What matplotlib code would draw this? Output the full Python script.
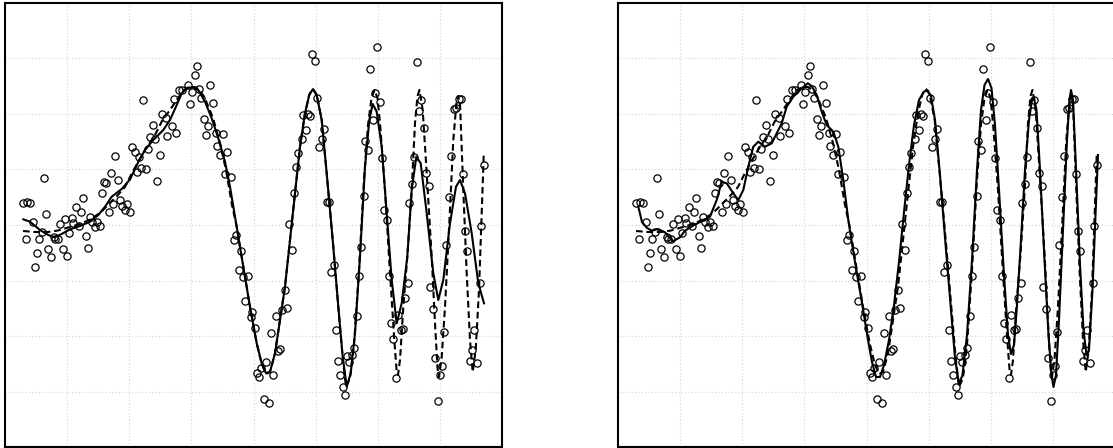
import matplotlib
matplotlib.use("Agg")
import matplotlib.pyplot as plt
import numpy as np

# observed noisy samples (same in both panels)
obs_x = [1.77, 2.23, 2.50, 3.87, 4.13, 2.77, 2.07, 3.43, 3.67, 4.87, 5.03, 5.33, 4.33, 5.77,
         3.20, 4.60, 6.20, 3.00, 5.53, 6.00, 6.67, 6.80, 7.37, 6.43, 7.13, 7.57, 7.83, 8.50,
         8.70, 9.20, 9.00, 9.50, 8.07, 8.27, 9.67, 9.93, 10.13, 10.57, 11.03, 11.30, 10.83,
         10.40, 11.53, 11.73, 12.23, 12.00, 12.50, 12.70, 13.00, 13.40, 13.17, 13.63, 14.10,
         14.30, 13.83, 14.53, 15.03, 14.77, 15.20, 15.50, 15.70, 16.07, 16.17, 16.67, 17.10,
         16.87, 17.35, 17.65, 18.25, 18.70, 19.40, 18.47, 18.95, 19.18, 19.62, 20.53, 20.78,
         19.90, 20.32, 20.10, 21.05, 21.75, 21.22, 21.50, 22.20, 21.95, 22.60, 23.13, 22.88,
         23.57, 23.35, 23.83, 24.30, 24.03, 24.73, 24.55, 25.02, 25.17, 25.43, 25.62, 26.10,
         26.78, 25.87, 26.35, 26.57, 27.07, 27.30, 27.53, 27.72, 28.20, 27.97, 28.40, 28.70,
         28.85, 29.08, 29.30, 29.65, 29.83, 30.07, 30.28, 30.53, 30.70, 30.95, 31.23, 31.42,
         31.67, 31.92, 32.20, 32.42, 32.60, 32.85, 33.10, 33.27, 33.52, 33.75, 33.98, 34.20,
         34.43, 34.70, 34.93, 35.17, 35.38, 35.63, 35.85, 36.03, 36.32, 36.52, 36.78, 37.00,
         37.22, 37.48, 37.68, 37.92, 38.15, 38.35, 38.63, 38.83, 39.07, 39.25, 39.57, 39.82,
         40.03, 40.25, 40.42, 40.70, 40.93, 41.17, 41.43, 41.62, 41.85, 42.10, 42.35, 42.53,
         42.80, 43.02, 43.25, 43.48, 43.70, 43.92, 44.13, 44.40, 44.63, 44.85, 45.10, 45.38,
         45.60, 45.77, 45.97, 46.22, 46.50, 46.70, 46.90, 47.18, 47.47, 47.63, 47.87]
obs_y = [2.15, 2.30, 2.15, 4.73, 1.07, 0.28, -1.43, -1.37, -0.70, -1.23, -1.37, -1.43, -2.43,
         -2.43, -2.80, -3.20, -3.10, -4.20, 0.10, 0.60, 0.67, 0.17, -0.10, -0.77, 1.77, 1.30,
         2.73, 0.83, 0.27, 0.27, -0.23, -0.10, -1.13, -2.33, 3.20, 4.30, 4.17, 5.20, 6.90,
         4.47, 2.07, 1.27, 2.47, 1.93, 2.07, 1.47, 1.27, 7.80, 7.33, 6.83, 5.27, 5.73, 5.57,
         7.63, 12.50, 8.77, 8.63, 10.00, 4.40, 6.97, 11.07, 10.67, 8.90, 9.90, 9.17, 12.63,
         13.50, 13.50, 13.98, 13.25, 13.57, 12.07, 14.98, 15.88, 12.70, 13.98, 12.20, 10.57,
         9.93, 9.00, 9.17, 9.10, 7.88, 6.95, 7.33, 5.10, 4.78, -0.97, -1.52, -2.63, -4.47,
         -5.22, -5.08, -7.58, -8.70, -9.15, -10.30, -14.78, -15.23, -14.32, -13.65, -14.97,
         -17.37, -17.77, -10.83, -9.10, -12.63, -12.42, -8.45, -8.27, -6.53, 0.12, -2.47,
         3.17, 5.83, 7.17, 8.58, 11.02, 9.53, 11.13, 10.93, 17.08, 16.40, 12.65, 7.77, 8.57,
         9.60, 2.32, 2.32, -4.75, -4.03, -10.50, -13.62, -14.97, -16.18, -16.97, -13.13,
         -13.72, -13.00, -12.27, -9.08, -5.12, -2.22, 2.92, 8.35, 7.50, 15.55, 10.45, 13.20,
         17.75, 12.28, 6.65, 1.45, 0.50, -5.08, -9.80, -11.40, -15.28, -8.97, -10.45, -10.43,
         -7.30, -5.83, 2.15, 4.08, 6.77, 16.25, 11.38, 12.48, 9.67, 5.20, 3.90, -6.22, -8.37,
         -13.30, -17.58, -15.00, -14.12, -10.73, -2.00, 2.78, 6.92, 11.60, 11.73, 12.60,
         12.60, 5.10, -0.63, -2.57, -13.62, -12.53, -10.50, -13.75, -5.85, -0.13, 6.02]

# true underlying curve (dashed)
true_x = [1.80, 3.00, 4.30, 5.30, 6.50, 7.50, 8.50, 9.50, 10.30, 11.20, 12.00, 12.60, 13.30,
          14.00, 15.00, 15.70, 16.50, 17.30, 17.90, 18.50, 19.00, 19.50, 20.10, 20.80, 21.50,
          22.10, 22.70, 23.17, 23.83, 24.50, 25.17, 25.67, 26.10, 26.50, 27.00, 27.50, 28.00,
          28.50, 29.00, 29.50, 30.00, 30.43, 30.77, 31.17, 31.67, 32.17, 32.83, 33.33, 33.77,
          34.10, 34.50, 34.90, 35.40, 35.90, 36.30, 36.65, 36.95, 37.25, 37.50, 38.00, 38.50,
          38.93, 39.17, 39.30, 39.50, 39.83, 40.23, 40.67, 41.00, 41.25, 41.45, 41.77, 42.17,
          42.67, 43.00, 43.25, 43.40, 43.67, 44.00, 44.43, 44.83, 45.17, 45.30, 45.50, 45.83,
          46.17, 46.50, 46.77, 47.07, 47.40, 47.67, 47.87]
true_y = [-0.60, -0.70, -0.70, -0.55, -0.20, 0.10, 0.55, 1.20, 2.00, 2.90, 3.80, 5.00, 6.30,
          7.50, 9.00, 10.40, 11.50, 12.70, 13.50, 13.80, 13.80, 13.50, 12.40, 10.70, 8.20,
          5.50, 2.00, -0.17, -4.17, -8.17, -11.83, -13.90, -14.90, -14.70, -12.83, -9.50,
          -6.17, -1.50, 3.17, 7.83, 11.20, 13.05, 13.65, 13.05, 10.50, 5.17, -2.17, -8.20,
          -13.30, -16.20, -15.30, -12.00, -4.50, 4.50, 10.00, 12.70, 13.50, 12.70, 10.20, 3.50,
          -4.80, -11.50, -14.70, -15.00, -13.50, -8.20, -3.20, 3.50, 10.20, 12.90, 13.50, 11.50,
          5.20, -3.20, -9.80, -14.30, -15.20, -13.20, -8.20, 0.20, 8.50, 12.50, 12.90, 12.20,
          3.50, -4.80, -11.50, -14.70, -12.50, -6.50, 1.20, 7.00]

# fit with a global bandwidth (left panel)
fit_a_x = [1.83, 2.50, 3.50, 4.33, 4.93, 5.67, 6.50, 7.50, 8.50, 9.33, 10.00, 10.67, 11.67,
           12.50, 13.33, 14.00, 14.83, 15.83, 16.50, 17.17, 17.67, 18.23, 18.83, 19.33, 20.00,
           20.67, 21.33, 22.00, 22.50, 23.17, 23.83, 24.50, 25.17, 25.67, 26.10, 26.50, 27.00,
           27.50, 28.00, 28.50, 29.00, 29.50, 30.00, 30.43, 30.77, 31.17, 31.67, 32.17, 32.83,
           33.33, 33.77, 34.17, 34.57, 35.00, 35.50, 36.00, 36.43, 36.77, 37.17, 37.67, 38.17,
           38.67, 39.17, 39.67, 40.23, 40.67, 41.13, 41.57, 42.17, 42.83, 43.33, 43.83, 44.50,
           45.10, 45.50, 46.00, 46.67, 47.33, 47.90]
fit_a_y = [0.57, 0.33, -0.50, -1.00, -1.23, -0.90, -0.43, -0.10, 0.33, 1.00, 1.83, 2.83, 3.60,
           4.55, 6.30, 7.50, 8.50, 9.50, 10.50, 12.00, 13.17, 13.73, 13.77, 13.50, 12.33, 10.67,
           8.67, 6.33, 3.83, -0.17, -4.17, -8.17, -11.83, -13.83, -14.83, -14.67, -12.83, -9.50,
           -6.17, -1.50, 3.17, 7.83, 11.17, 13.00, 13.57, 13.00, 10.50, 5.17, -2.17, -8.17,
           -13.17, -16.17, -14.83, -10.83, -3.17, 5.83, 10.50, 12.10, 11.33, 7.83, 1.17, -5.50,
           -9.83, -7.83, -3.17, 3.50, 6.83, 6.17, 1.17, -4.83, -7.50, -5.50, 0.17, 3.83, 4.50,
           3.17, -0.83, -5.83, -7.83]

# fit with a local bandwidth (right panel)
fit_b_x = [2.03, 2.40, 2.90, 3.40, 4.00, 4.70, 5.50, 6.20, 6.70, 7.50, 8.30, 9.20, 9.87, 10.37,
           10.87, 11.53, 12.03, 12.53, 13.03, 13.53, 14.03, 14.70, 15.37, 15.87, 16.37, 16.87,
           17.53, 18.37, 18.97, 19.37, 19.87, 20.37, 20.87, 21.53, 22.03, 22.53, 23.03, 23.70,
           24.40, 25.00, 25.40, 25.80, 26.20, 26.60, 27.10, 27.60, 28.10, 28.60, 29.10, 29.60,
           30.10, 30.60, 30.97, 31.30, 31.70, 32.20, 32.80, 33.30, 33.70, 34.10, 34.45, 34.90,
           35.40, 35.90, 36.30, 36.65, 37.00, 37.35, 37.70, 38.10, 38.60, 39.00, 39.30, 39.60,
           39.90, 40.30, 40.70, 41.10, 41.40, 41.60, 41.85, 42.20, 42.65, 43.05, 43.35, 43.55,
           43.80, 44.10, 44.50, 44.90, 45.15, 45.30, 45.50, 45.85, 46.20, 46.55, 46.85, 47.10,
           47.45, 47.75, 48.00]
fit_b_y = [1.83, 0.30, -0.30, -0.57, -0.40, -0.73, -1.63, -1.23, -0.57, -0.07, 0.35, 0.83, 2.50,
           4.33, 4.17, 3.17, 2.50, 3.50, 5.83, 7.83, 8.33, 7.83, 8.17, 9.17, 10.17, 11.83, 12.83,
           13.67, 14.17, 13.90, 13.00, 11.33, 10.00, 9.33, 7.83, 4.50, 0.50, -3.70, -7.80,
           -11.50, -13.70, -15.20, -15.20, -14.00, -11.50, -8.00, -3.70, 1.30, 6.00, 10.00,
           12.50, 13.35, 13.45, 12.90, 10.50, 5.00, -2.50, -8.50, -13.30, -15.90, -15.00,
           -11.00, -3.50, 5.50, 11.50, 14.00, 14.60, 13.70, 10.00, 3.50, -5.00, -11.00, -12.90,
           -12.00, -8.00, -1.50, 5.50, 10.50, 12.50, 12.70, 11.50, 5.50, -3.50, -11.00, -15.00,
           -16.20, -15.00, -9.50, -0.50, 8.50, 12.50, 13.50, 12.50, 4.50, -4.00, -10.50, -13.00,
           -12.50, -6.50, 1.00, 7.00]

W, H = 1113, 448
fig = plt.figure(figsize=(W / 100, H / 100), dpi=100)

panels = [(5, fit_a_x, fit_a_y), (618, fit_b_x, fit_b_y)]
for left, fx, fy in panels:
    ax = fig.add_axes([left / W, 1 / H, 497 / W, 444 / H])
    ax.set_xlim(0, 49.7)
    ax.set_ylim(-22.2, 22.2)
    for gx in np.linspace(0, 49.7, 9)[1:-1]:
        ax.axvline(gx, color="#d3d3d3", lw=0.8, ls=(0, (1, 2)), zorder=0)
    for gy in np.linspace(-22.2, 22.2, 9)[1:-1]:
        ax.axhline(gy, color="#d3d3d3", lw=0.8, ls=(0, (1, 2)), zorder=0)
    ax.plot(obs_x, obs_y, "o", mfc="none", mec="black", ms=5.2, mew=0.9, zorder=2)
    ax.plot(true_x, true_y, color="black", lw=1.5, ls=(0, (3.2, 1.8)), zorder=3)
    ax.plot(fx, fy, color="black", lw=1.5, zorder=4)
    ax.set_xticks([])
    ax.set_yticks([])
    for s in ax.spines.values():
        s.set_linewidth(1.5)

fig.savefig("out.png", dpi=100)
